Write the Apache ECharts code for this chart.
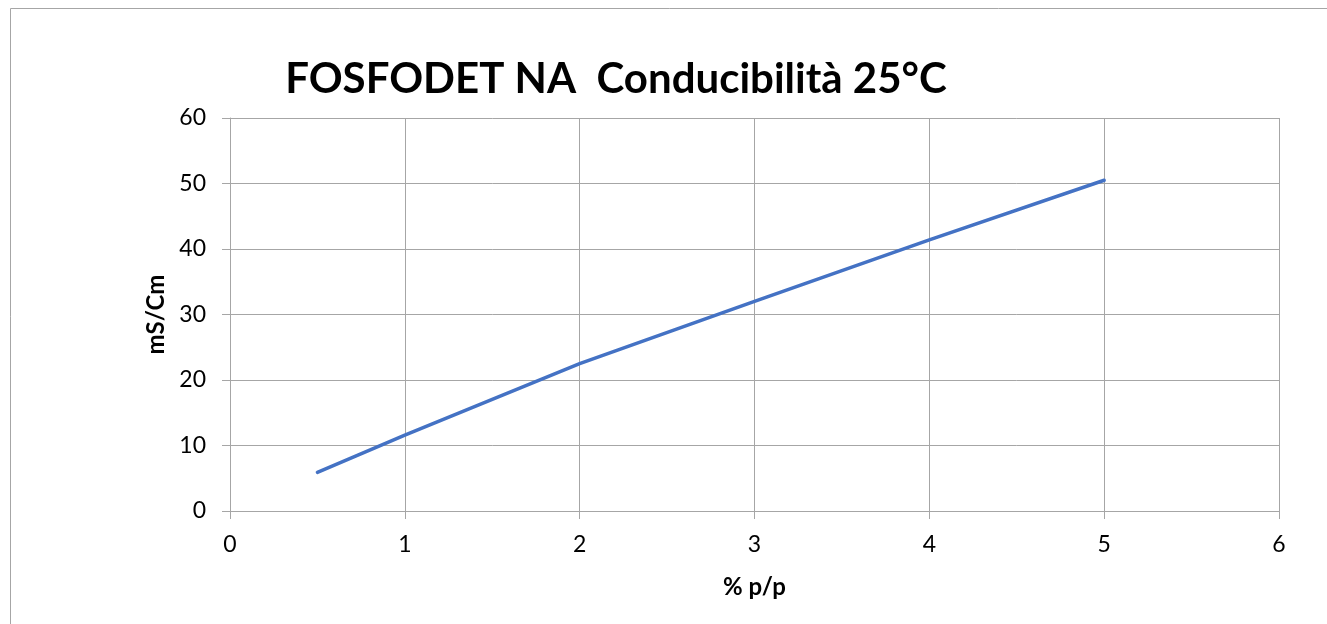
<!DOCTYPE html>
<html>
<head>
<meta charset="utf-8">
<script src="https://cdn.jsdelivr.net/npm/echarts@6/dist/echarts.min.js"></script>
<style>
  html, body { margin: 0; padding: 0; background: #fff; }
  #chart { width: 1327px; height: 624px; }
</style>
</head>
<body>
<div id="chart"></div>
<script>
// % p/p concentration and conductivity at 25°C (mS/Cm)
var concentration = [0.5, 1, 2, 3, 4, 5];
var conductivity = [5.9, 11.6, 22.5, 32, 41.4, 50.5];

var chartTitle = 'FOSFODET NA  Conducibilità 25°C';
var xName = '% p/p';
var yName = 'mS/Cm';

var points = concentration.map(function (x, i) { return [x, conductivity[i]]; });

var myChart = echarts.init(document.getElementById('chart'));
var gridColor = '#a6a6a6';
var font = 'Lato, "Open Sans", sans-serif';

myChart.setOption({
  backgroundColor: '#fff',
  animation: false,
  title: {
    text: chartTitle,
    left: 611,
    top: 53,
    textAlign: 'center',
    textStyle: { fontFamily: font, fontSize: 42, fontWeight: 'bold', color: '#000' }
  },
  graphic: [{
    type: 'rect',
    shape: { x: 10.5, y: 8.5, width: 1400, height: 700 },
    style: { fill: 'none', stroke: '#a6a6a6', lineWidth: 1 }
  }],
  grid: { left: 230, right: 48, top: 118, bottom: 113 },
  xAxis: {
    type: 'value',
    min: 0,
    max: 6,
    interval: 1,
    name: xName,
    nameLocation: 'middle',
    nameGap: 64,
    nameTextStyle: { fontFamily: font, fontSize: 24, fontWeight: 'bold', color: '#000' },
    axisLine: { show: true, lineStyle: { color: gridColor } },
    axisTick: { show: true, length: 8, lineStyle: { color: gridColor } },
    axisLabel: { fontFamily: font, fontSize: 23, color: '#000', margin: 22 },
    splitLine: { show: true, lineStyle: { color: gridColor, width: 1 } }
  },
  yAxis: {
    type: 'value',
    min: 0,
    max: 60,
    interval: 10,
    name: yName,
    nameLocation: 'middle',
    nameGap: 62,
    nameRotate: 90,
    nameTextStyle: { fontFamily: font, fontSize: 24, fontWeight: 'bold', color: '#000' },
    axisLine: { show: true, lineStyle: { color: gridColor } },
    axisTick: { show: true, length: 8, lineStyle: { color: gridColor } },
    axisLabel: { fontFamily: font, fontSize: 23, color: '#000', margin: 24 },
    splitLine: { show: true, lineStyle: { color: gridColor, width: 1 } }
  },
  series: [{
    name: yName,
    type: 'line',
    data: points,
    showSymbol: false,
    lineStyle: { color: '#4472c4', width: 3.5, cap: 'round' },
    itemStyle: { color: '#4472c4' }
  }]
});
</script>
</body>
</html>
